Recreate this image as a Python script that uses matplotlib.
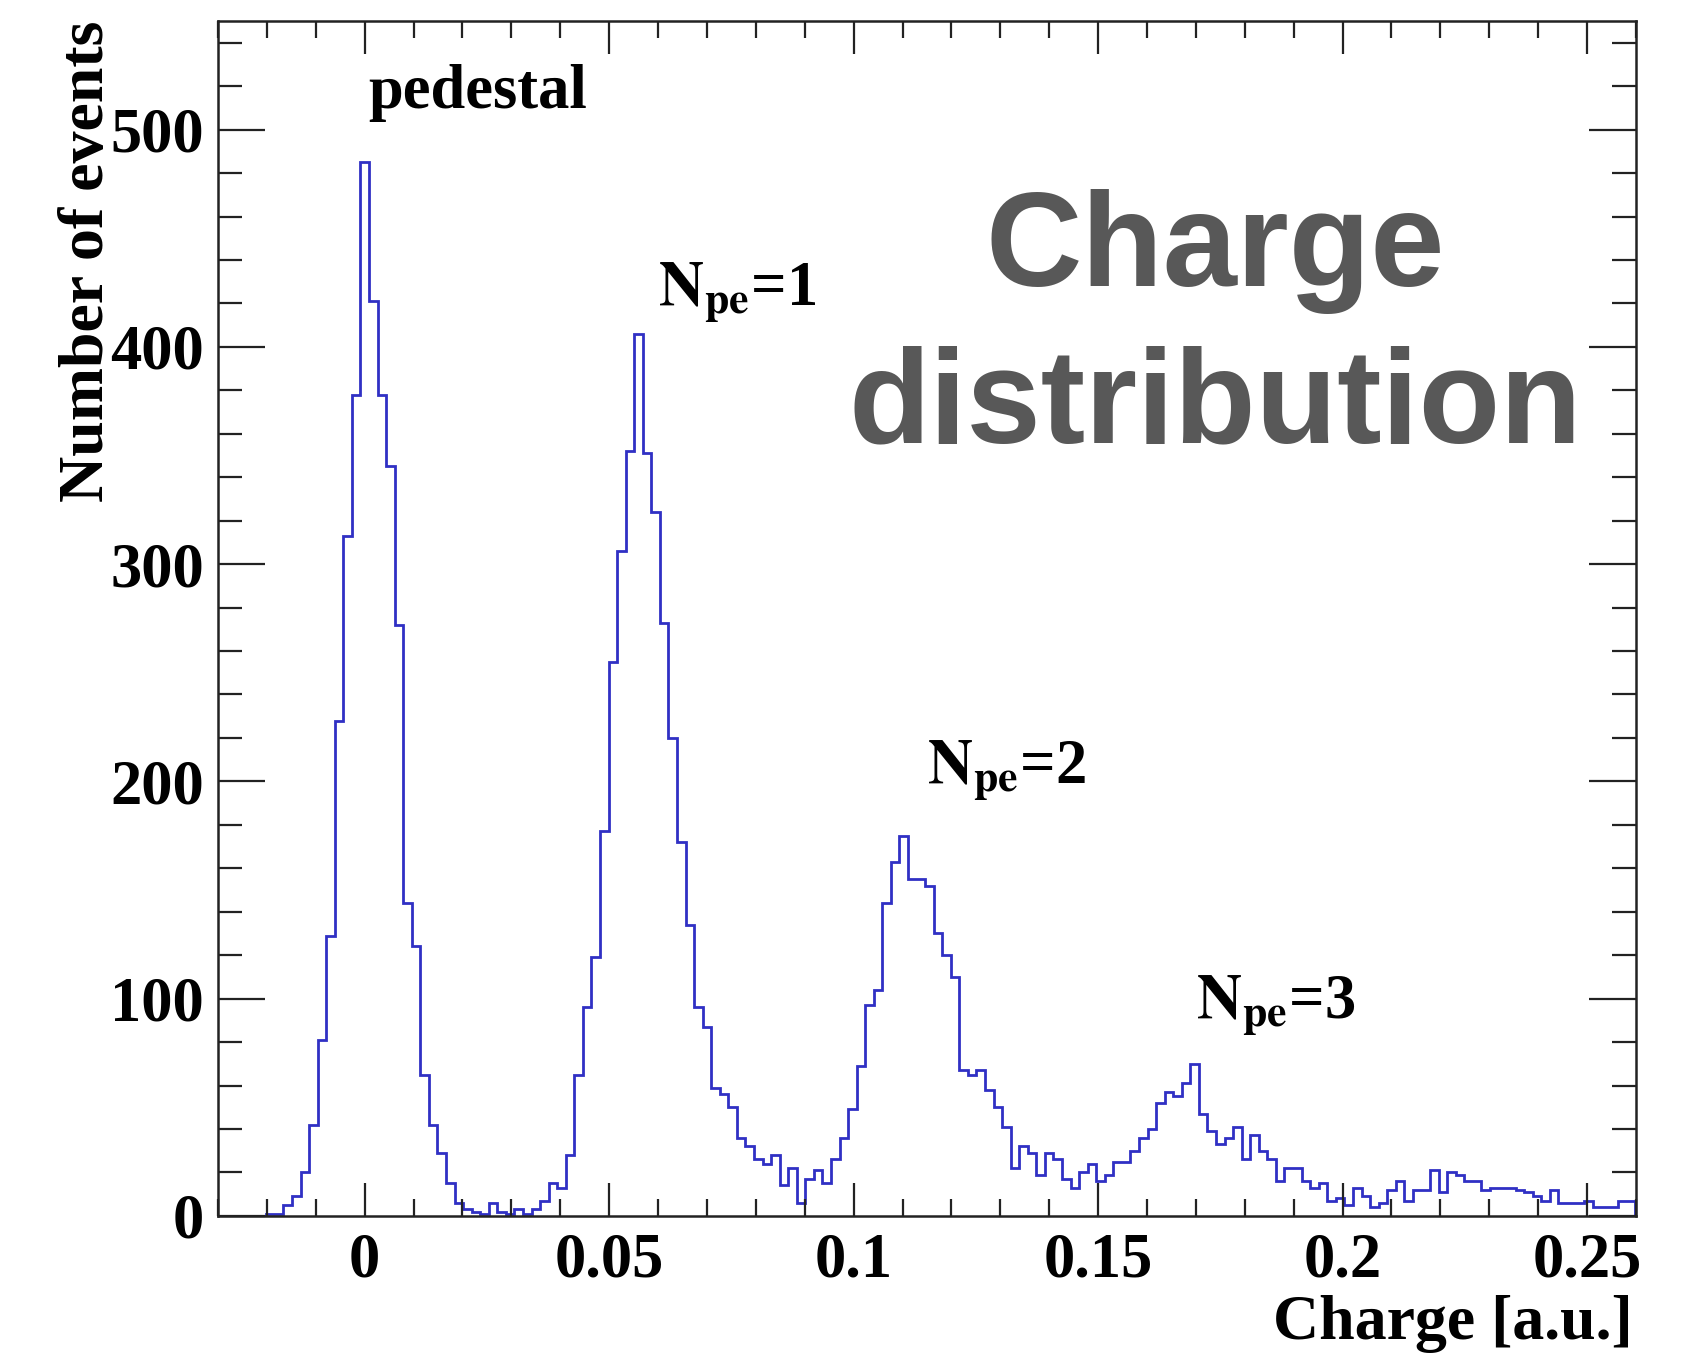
import matplotlib
matplotlib.use("Agg")
import matplotlib.pyplot as plt
import numpy as np

# histogram binning
bin_lo = -0.030625
bin_width = 0.00175

# counts per bin, from x=-0.0306 up to x=0.2599
counts = [
    0, 0, 0, 0, 0, 0,
    1, 1, 5, 9, 20, 42, 81, 129, 228, 313, 378,
    485, 421, 378, 345, 272, 144, 124, 65, 42, 29,
    15, 6, 3, 2, 1, 6, 2, 1, 3, 1,
    3, 7, 15, 13, 28, 65, 96, 119, 177, 255,
    306, 352, 406, 351, 324, 273, 220, 172, 134, 96,
    87, 59, 56, 50, 36, 32, 26, 24, 28, 14,
    22, 6, 17, 21, 15, 26, 36, 49, 69, 97,
    104, 144, 163, 175, 155, 155, 152, 130, 120, 110,
    67, 65, 67, 58, 50, 41, 22, 32, 29, 19,
    29, 26, 17, 13, 20, 24, 16, 19, 25, 25,
    30, 36, 40, 52, 57, 55, 61, 70, 47, 39,
    33, 36, 41, 26, 37, 30, 26, 16, 22, 22,
    16, 13, 15, 7, 8, 5, 13, 9, 4, 6,
    12, 16, 7, 12, 12, 21, 11, 20, 19, 16,
    16, 12, 13, 13, 13, 12, 11, 9, 7, 12,
    6, 6, 6, 7, 4, 4, 4, 7, 7,
]

x_ticks = [0, 0.05, 0.1, 0.15, 0.2, 0.25]
x_labels = ["0", "0.05", "0.1", "0.15", "0.2", "0.25"]
y_ticks = [0, 100, 200, 300, 400, 500]
y_labels = ["0", "100", "200", "300", "400", "500"]

# peak annotations: text, x, y (data coords, baseline)
peak_labels = ["pedestal", r"$\mathbf{N_{pe}}$=1", r"$\mathbf{N_{pe}}$=2", r"$\mathbf{N_{pe}}$=3"]
peak_x = [0.0007, 0.0600, 0.1150, 0.1700]
peak_y = [510, 419, 199, 91]

plt.rcParams['mathtext.fontset'] = 'stix'
serif = ['Liberation Serif', 'DejaVu Serif']

fig = plt.figure(figsize=(16.9, 13.57), dpi=100)
ax = fig.add_axes([0.129, 0.104, 0.839, 0.8805])

edges = bin_lo + bin_width * np.arange(len(counts) + 1)
ax.stairs(counts, edges, color='#3030c4', linewidth=2.0, baseline=0)

ax.set_xlim(-0.03, 0.26)
ax.set_ylim(0, 550)

ax.set_xticks(x_ticks)
ax.set_xticklabels(x_labels)
ax.set_xticks(np.arange(-0.03, 0.2601, 0.01), minor=True)
ax.set_yticks(y_ticks)
ax.set_yticklabels(y_labels)
ax.set_yticks(np.arange(0, 551, 20), minor=True)

ax.tick_params(which='both', direction='in', top=True, right=True, width=1.6, color='#222222')
ax.tick_params(axis='y', which='major', length=34, pad=10)
ax.tick_params(axis='y', which='minor', length=17)
ax.tick_params(axis='x', which='major', length=24, pad=12)
ax.tick_params(axis='x', which='minor', length=12)
for lab in ax.get_xticklabels() + ax.get_yticklabels():
    lab.set_family(serif)
    lab.set_fontweight('bold')
    lab.set_fontsize(45)
for sp in ax.spines.values():
    sp.set_linewidth(1.8)
    sp.set_color('#222222')

for txt, xx, yy in zip(peak_labels, peak_x, peak_y):
    ax.text(xx, yy, txt, fontsize=45, fontweight='bold', family=serif,
            ha='left', va='baseline')

fig.text(0.052, 0.9845, 'Number of events', rotation=90, ha='center', va='top',
         fontsize=46, fontweight='bold', family=serif)
fig.text(0.966, 0.024, 'Charge [a.u.]', ha='right', va='center',
         fontsize=46, fontweight='bold', family=serif)

fig.text(0.719, 0.789, 'Charge', ha='center', va='baseline', fontsize=96,
         fontweight='bold', family=['Liberation Sans', 'DejaVu Sans'], color='#585858')
fig.text(0.719, 0.674, 'distribution', ha='center', va='baseline', fontsize=96,
         fontweight='bold', family=['Liberation Sans', 'DejaVu Sans'], color='#585858')

fig.savefig('out.png', dpi=100)
